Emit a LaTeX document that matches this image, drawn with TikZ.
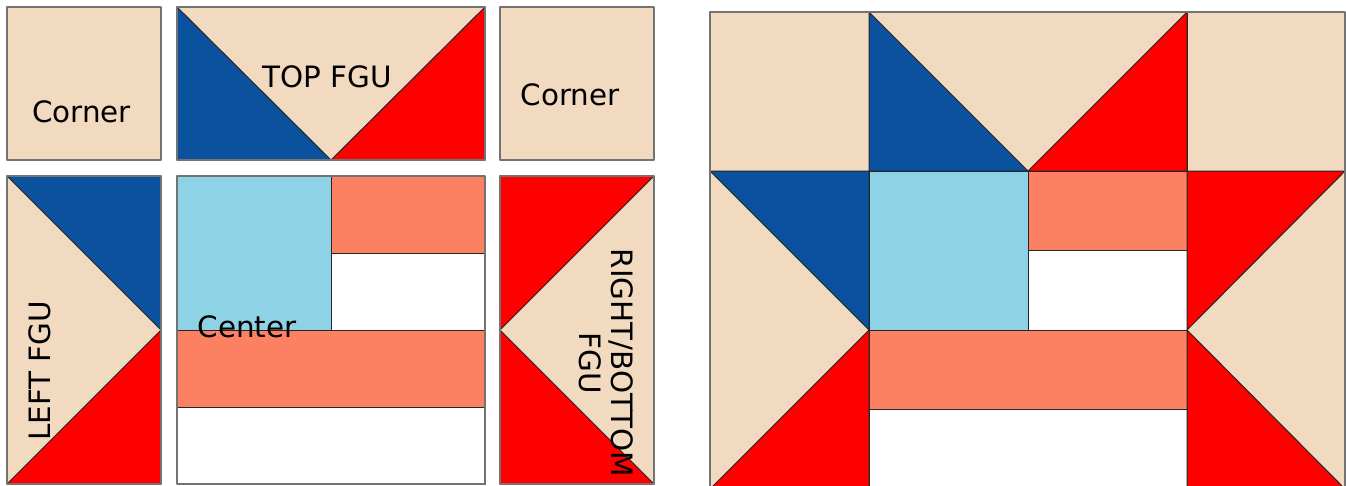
\documentclass[tikz,border=0pt]{standalone}
\usepackage{fontspec}
\setmainfont{DejaVu Sans}
\definecolor{tan}{RGB}{242,218,192}
\definecolor{navy}{RGB}{10,81,158}
\definecolor{sky}{RGB}{142,211,229}
\definecolor{salmon}{RGB}{251,129,98}
\definecolor{skyedge}{RGB}{55,115,190}
\begin{document}
\begin{tikzpicture}[x=1pt,y=-1pt,line cap=round,line join=round,
  patch/.style={draw=black!85,line width=1pt},
  outer/.style={draw=black!55,line width=1.1pt},
  lab/.style={font=\fontsize{29.4}{31.5}\selectfont,inner sep=0pt}]
  \useasboundingbox (0,0) rectangle (1346,485);
  \clip (0,0) rectangle (1346,485);
  % pieces
  \fill[tan] (7,7) rectangle (161,160);
  \draw[outer] (7,7) rectangle (161,160);
  \node[lab,anchor=base] (cornerA) at (81.5,122) {Corner};
  \fill[tan] (177,7) rectangle (485,160);
  \filldraw[navy,patch] (177,7) -- (331,160) -- (177,160) -- cycle;
  \filldraw[red,patch] (485,7) -- (485,160) -- (331,160) -- cycle;
  \draw[outer] (177,7) rectangle (485,160);
  \node[lab,anchor=base] (topfgu) at (327.5,87) {TOP FGU};
  \fill[tan] (500,7) rectangle (654,160);
  \draw[outer] (500,7) rectangle (654,160);
  \node[lab,anchor=base] (cornerB) at (570,105) {Corner};
  \fill[tan] (7,176) rectangle (161,484);
  \filldraw[navy,patch] (7,176) -- (161,176) -- (161,330) -- cycle;
  \filldraw[red,patch] (161,330) -- (161,484) -- (7,484) -- cycle;
  \draw[outer] (7,176) rectangle (161,484);
  \node[lab,rotate=90] (leftfgu) at (39.5,371) {LEFT FGU};
  \filldraw[fill=sky,draw=skyedge,line width=1pt] (177,176) rectangle (331,330);
  \filldraw[salmon,patch] (331,176) rectangle (485,253);
  \filldraw[white,patch] (331,253) rectangle (485,330);
  \filldraw[salmon,patch] (177,330) rectangle (485,407);
  \filldraw[white,patch] (177,407) rectangle (485,484);
  \draw[outer] (177,176) rectangle (485,484);
  \node[lab,anchor=base] (center) at (247,337) {Center};
  \fill[tan] (500,176) rectangle (654,484);
  \filldraw[red,patch] (500,176) -- (654,176) -- (500,330) -- cycle;
  \filldraw[red,patch] (500,330) -- (654,484) -- (500,484) -- cycle;
  \draw[outer] (500,176) rectangle (654,484);
  \node[lab,rotate=-90,align=center] (rightfgu) at (606,363) {RIGHT/BOTTOM\\FGU};
  % assembled block
  \fill[tan] (710,12) rectangle (1345,489);
  \draw[patch] (710,12) rectangle (869,171);
  \draw[patch] (1187,12) rectangle (1345,171);
  \filldraw[navy,patch] (869,12) -- (1028,171) -- (869,171) -- cycle;
  \filldraw[red,patch] (1187,12) -- (1187,171) -- (1028,171) -- cycle;
  \filldraw[navy,patch] (710,171) -- (869,171) -- (869,330) -- cycle;
  \filldraw[red,patch] (869,330) -- (869,489) -- (710,489) -- cycle;
  \filldraw[sky,patch] (869,171) rectangle (1028,330);
  \filldraw[salmon,patch] (1028,171) rectangle (1187,250);
  \filldraw[white,patch] (1028,250) rectangle (1187,330);
  \filldraw[salmon,patch] (869,330) rectangle (1187,409);
  \filldraw[white,patch] (869,409) rectangle (1187,489);
  \filldraw[red,patch] (1187,171) -- (1345,171) -- (1187,330) -- cycle;
  \filldraw[red,patch] (1187,330) -- (1345,489) -- (1187,489) -- cycle;
  \draw[patch] (869,12) -- (1187,12);
  \draw[outer] (710,12) rectangle (1345,489);
\end{tikzpicture}
\end{document}
